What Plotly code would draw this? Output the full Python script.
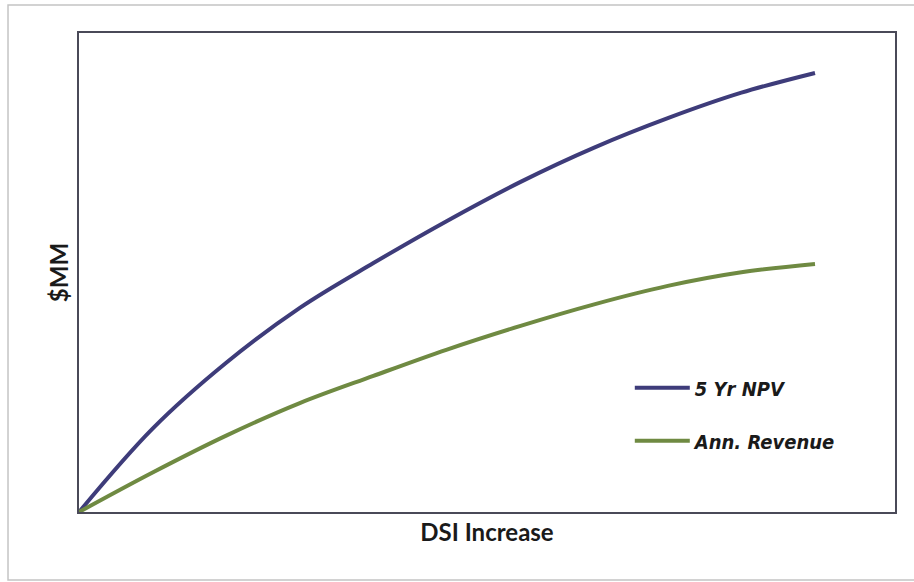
import plotly.graph_objects as go

# DSI increase steps and the two value series ($MM, arbitrary scale)
dsi_increase = [0, 1, 2, 3, 4, 5, 6, 7, 8, 9, 10]
npv_5yr = [0, 19.0, 34.0, 46.5, 56.7, 66.3, 75.2, 83.0, 89.7, 95.5, 100.0]
ann_revenue = [0, 9.0, 17.4, 24.8, 31.0, 37.0, 42.4, 47.3, 51.5, 54.6, 56.5]

series_names = ["5 Yr NPV", "Ann. Revenue"]
series_colors = ["#3e3c7a", "#6f8a42"]

fig = go.Figure()
for name, values, color in zip(series_names, [npv_5yr, ann_revenue], series_colors):
    fig.add_trace(go.Scatter(
        x=dsi_increase, y=values, name=name, mode="lines",
        legendgroup=name,
        line=dict(color=color, width=4, shape="spline", smoothing=1.0),
    ))

axis_common = dict(
    showticklabels=False, ticks="", showgrid=False, zeroline=False,
    showline=True, mirror=True, linecolor="#4a4a58", linewidth=2,
)

fig.update_layout(
    width=914, height=582,
    margin=dict(l=79, r=19, t=33, b=70),
    paper_bgcolor="white", plot_bgcolor="white",
    font=dict(family="Lato, Open Sans, sans-serif", color="#1a1a1a"),
    xaxis=dict(range=[0, 11.087],
               title=dict(text="<b>DSI Increase</b>", font=dict(size=24), standoff=11),
               **axis_common),
    yaxis=dict(range=[0, 109.1],
               title=dict(text="<b>$MM</b>", font=dict(size=24), standoff=2),
               **axis_common),
    legend=dict(
        x=0.675, y=0.30, xanchor="left", yanchor="top",
        bgcolor="rgba(0,0,0,0)", traceorder="grouped", tracegroupgap=24,
        itemwidth=55,
        font=dict(family="Liberation Sans Narrow, DejaVu Sans Condensed, Roboto, sans-serif",
                  size=20, weight="bold", style="italic", color="#1a1a1a"),
    ),
    shapes=[dict(
        type="rect", xref="paper", yref="paper",
        x0=-0.087, x1=1.08, y0=-0.142, y1=1.0585,
        line=dict(color="#c4c4c4", width=1.5), fillcolor="rgba(0,0,0,0)", layer="below",
    )],
)

fig.write_html("out.html")
